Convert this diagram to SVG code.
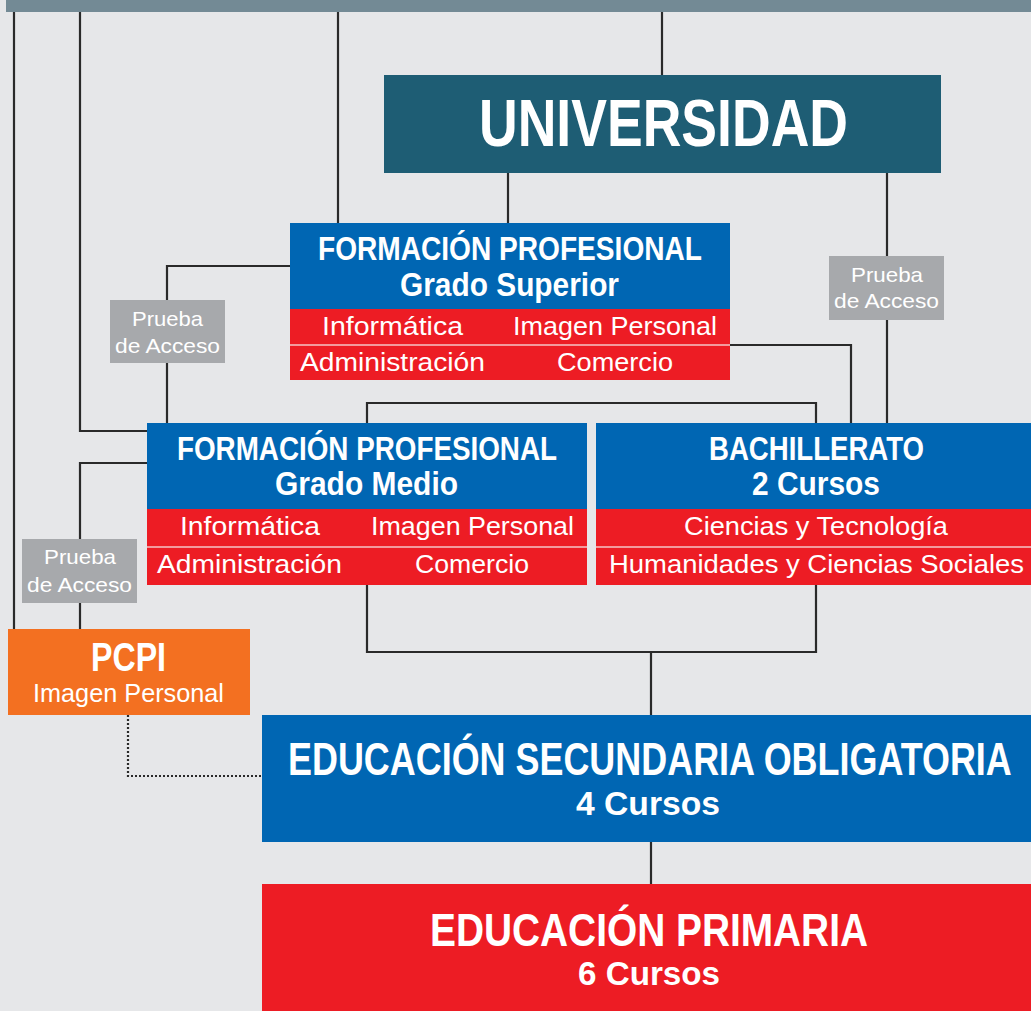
<svg xmlns="http://www.w3.org/2000/svg" width="1031" height="1011" viewBox="0 0 1031 1011">
<style>
.ln{fill:none;stroke:#2a2a2a;stroke-width:2.2}
.dot{fill:none;stroke:#2a2a2a;stroke-width:2.2;stroke-dasharray:2 2}
.b{font-family:"Liberation Sans",Arial,sans-serif;font-weight:bold;fill:#fff}
.r{font-family:"Liberation Sans",Arial,sans-serif;font-weight:normal;fill:#fff}
.div{stroke:#f5c4c6;stroke-width:1.5}
</style>
<rect x="0" y="0" width="1031" height="1011" fill="#e6e7e9"/>
<rect x="6" y="0" width="1025" height="12" fill="#738a95"/>
<g id="connectors">
<path class="ln" d="M14 12V629"/>
<path class="ln" d="M80 12V431H147"/>
<path class="ln" d="M338 12V223"/>
<path class="ln" d="M662 12V75"/>
<path class="ln" d="M508 173V223"/>
<path class="ln" d="M887 173V256M887 320V423"/>
<path class="ln" d="M290 266H167V300M167 363V423"/>
<path class="ln" d="M730 345H851V423"/>
<path class="ln" d="M367 423V403H816V423"/>
<path class="ln" d="M147 463H80V539M80 603V629"/>
<path class="ln" d="M367 585V652H816V585M651 652V715"/>
<path class="ln" d="M651 842V884"/>
<path class="dot" d="M128 715V776H262"/>
</g>
<g id="universidad">
<rect x="384" y="75" width="557" height="98" fill="#1e5d74"/>
<text class="b" x="479" y="146" font-size="66" textLength="369" lengthAdjust="spacingAndGlyphs">UNIVERSIDAD</text>
</g>
<g id="fp-superior">
<rect x="290" y="223" width="440" height="87" fill="#0066b3"/>
<rect x="290" y="309" width="440" height="71" fill="#ed1c24"/>
<line class="div" x1="290" y1="345" x2="730" y2="345"/>
<text class="b" x="318" y="260" font-size="33" textLength="384" lengthAdjust="spacingAndGlyphs">FORMACIÓN PROFESIONAL</text>
<text class="b" x="400" y="296" font-size="33" textLength="219" lengthAdjust="spacingAndGlyphs">Grado Superior</text>
<text class="r" x="322" y="335" font-size="26" textLength="141" lengthAdjust="spacingAndGlyphs">Informática</text>
<text class="r" x="513" y="335" font-size="26" textLength="204" lengthAdjust="spacingAndGlyphs">Imagen Personal</text>
<text class="r" x="300" y="371" font-size="26" textLength="185" lengthAdjust="spacingAndGlyphs">Administración</text>
<text class="r" x="557" y="371" font-size="26" textLength="116" lengthAdjust="spacingAndGlyphs">Comercio</text>
</g>
<g id="prueba-1">
<rect x="110" y="300" width="115" height="63" fill="#a7a9ac"/>
<text class="r" x="132" y="326" font-size="21" textLength="71" lengthAdjust="spacingAndGlyphs">Prueba</text>
<text class="r" x="115" y="353" font-size="21" textLength="105" lengthAdjust="spacingAndGlyphs">de Acceso</text>
</g>
<g id="prueba-2">
<rect x="829" y="256" width="115" height="64" fill="#a7a9ac"/>
<text class="r" x="851" y="282" font-size="21" textLength="72" lengthAdjust="spacingAndGlyphs">Prueba</text>
<text class="r" x="834" y="308" font-size="21" textLength="105" lengthAdjust="spacingAndGlyphs">de Acceso</text>
</g>
<g id="fp-medio">
<rect x="147" y="423" width="440" height="87" fill="#0066b3"/>
<rect x="147" y="509" width="440" height="76" fill="#ed1c24"/>
<line class="div" x1="147" y1="547" x2="587" y2="547"/>
<text class="b" x="177" y="460" font-size="33" textLength="380" lengthAdjust="spacingAndGlyphs">FORMACIÓN PROFESIONAL</text>
<text class="b" x="275" y="495" font-size="33" textLength="183" lengthAdjust="spacingAndGlyphs">Grado Medio</text>
<text class="r" x="180" y="535" font-size="26" textLength="140" lengthAdjust="spacingAndGlyphs">Informática</text>
<text class="r" x="371" y="535" font-size="26" textLength="203" lengthAdjust="spacingAndGlyphs">Imagen Personal</text>
<text class="r" x="157" y="573" font-size="26" textLength="185" lengthAdjust="spacingAndGlyphs">Administración</text>
<text class="r" x="415" y="573" font-size="26" textLength="114" lengthAdjust="spacingAndGlyphs">Comercio</text>
</g>
<g id="bachillerato">
<rect x="596" y="423" width="435" height="87" fill="#0066b3"/>
<rect x="596" y="509" width="435" height="76" fill="#ed1c24"/>
<line class="div" x1="596" y1="547" x2="1031" y2="547"/>
<text class="b" x="709" y="460" font-size="33" textLength="215" lengthAdjust="spacingAndGlyphs">BACHILLERATO</text>
<text class="b" x="752" y="495" font-size="33" textLength="128" lengthAdjust="spacingAndGlyphs">2 Cursos</text>
<text class="r" x="684" y="535" font-size="26" textLength="264" lengthAdjust="spacingAndGlyphs">Ciencias y Tecnología</text>
<text class="r" x="609" y="573" font-size="26" textLength="415" lengthAdjust="spacingAndGlyphs">Humanidades y Ciencias Sociales</text>
</g>
<g id="prueba-3">
<rect x="22" y="539" width="115" height="64" fill="#a7a9ac"/>
<text class="r" x="44" y="564" font-size="21" textLength="72" lengthAdjust="spacingAndGlyphs">Prueba</text>
<text class="r" x="27" y="592" font-size="21" textLength="105" lengthAdjust="spacingAndGlyphs">de Acceso</text>
</g>
<g id="pcpi">
<rect x="8" y="629" width="242" height="86" fill="#f37021"/>
<text class="b" x="91" y="671" font-size="40" textLength="75" lengthAdjust="spacingAndGlyphs">PCPI</text>
<text class="r" x="33" y="702" font-size="25" textLength="191" lengthAdjust="spacingAndGlyphs">Imagen Personal</text>
</g>
<g id="eso">
<rect x="262" y="715" width="769" height="127" fill="#0066b3"/>
<text class="b" transform="translate(288 775) scale(0.781 1)" x="0" y="0" font-size="46">EDUCACIÓN SECUNDARIA OBLIGATORIA</text>
<text class="b" x="576" y="815" font-size="33" textLength="144" lengthAdjust="spacingAndGlyphs">4 Cursos</text>
</g>
<g id="primaria">
<rect x="262" y="884" width="769" height="127" fill="#ed1c24"/>
<text class="b" x="430" y="946" font-size="46" textLength="438" lengthAdjust="spacingAndGlyphs">EDUCACIÓN PRIMARIA</text>
<text class="b" x="578" y="985" font-size="33" textLength="142" lengthAdjust="spacingAndGlyphs">6 Cursos</text>
</g>
</svg>
